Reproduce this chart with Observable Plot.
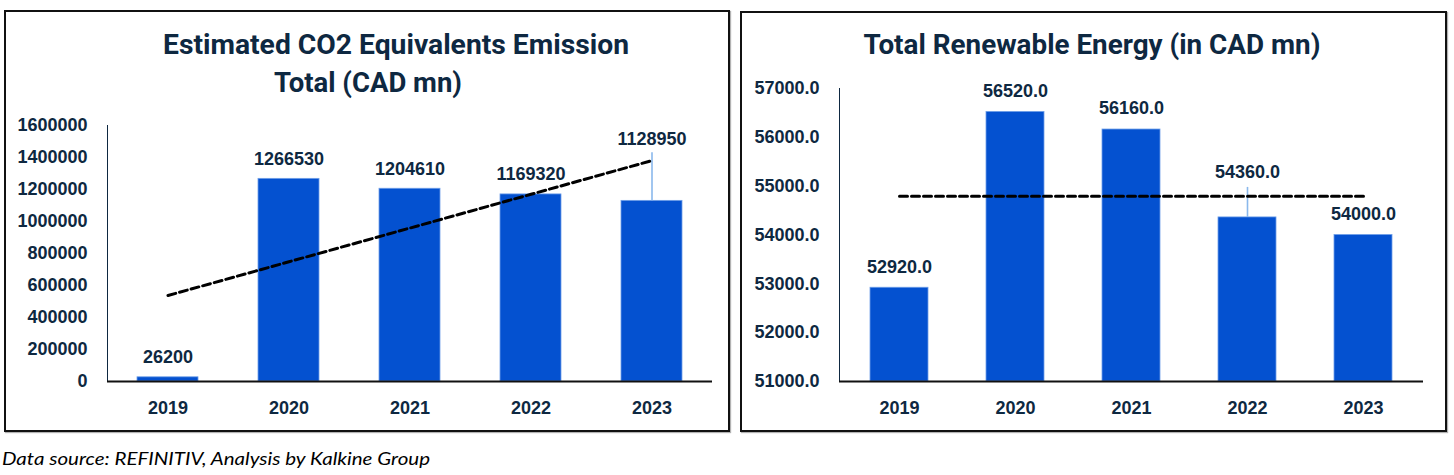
<!DOCTYPE html>
<html><head><meta charset="utf-8">
<script src="https://cdn.jsdelivr.net/npm/d3@7"></script>
<script src="https://cdn.jsdelivr.net/npm/@observablehq/plot@0.6"></script>
<style>
body{margin:0;background:#fff;}
#root{position:relative;width:1454px;height:475px;overflow:hidden;background:#fff;}
.panel{position:absolute;box-sizing:border-box;border:2px solid #111;box-shadow:1px 1px 1px rgba(0,0,0,0.3);}
.panel svg{position:absolute;left:0;top:0;overflow:visible;}
.title{position:absolute;white-space:nowrap;font-family:Roboto,sans-serif;font-weight:700;font-size:27px;color:#0e2841;line-height:1;}
.caption{position:absolute;white-space:nowrap;font-family:Lato,sans-serif;font-style:italic;font-size:18px;color:#000;line-height:1;}
</style></head>
<body>
<div id="root">
  <div class="panel" id="p1" style="left:4px;top:10px;width:726px;height:422px;"></div>
  <div class="panel" id="p2" style="left:740px;top:11px;width:707px;height:421px;"></div>
</div>
<script>
const years = ["2019", "2020", "2021", "2022", "2023"];
const co2Values = [26200, 1266530, 1204610, 1169320, 1128950];
const renewableValues = [52920, 56520, 56160, 54360, 54000];
const co2Ticks = [0, 200000, 400000, 600000, 800000, 1000000, 1200000, 1400000, 1600000];
const renewableTicks = [51000, 52000, 53000, 54000, 55000, 56000, 57000];
const co2Title = ["Estimated CO2 Equivalents Emission", "Total (CAD mn)"];
const renewableTitle = "Total Renewable Energy (in CAD mn)";
const caption = "Data source: REFINITIV, Analysis by Kalkine Group";

const co2 = years.map((year, i) => ({year, value: co2Values[i]}));
const ren = years.map((year, i) => ({year, value: renewableValues[i]}));

function trend(data) {
  const xs = data.map((d, i) => i), ys = data.map(d => d.value);
  const mx = d3.mean(xs), my = d3.mean(ys);
  const slope = d3.sum(xs, (x, i) => (x - mx) * (ys[i] - my)) / d3.sum(xs, x => (x - mx) ** 2);
  return data.map((d, i) => ({year: d.year, value: my + slope * (i - mx)}));
}

const NAVY = "#0e2841", BAR = "#0451d0", EDGE = "#6f9fe8", LEADER = "#8ab8ec";
const axisStyle = {fontFamily: "Liberation Sans, Arial, sans-serif", fontSize: "18px", fontWeight: "bold", color: NAVY, background: "transparent", overflow: "visible"};

function chart({data, ticks, domain, fmt, width, height, margins, special, specialDy, leaderFrac, normalDy}) {
  const base = domain[0];
  const span = domain[1] - domain[0];
  const normal = data.filter(d => d.year !== special);
  const spec = data.filter(d => d.year === special);
  return Plot.plot({
    width, height, ...margins,
    style: axisStyle,
    x: {domain: years, paddingInner: 0.5, paddingOuter: 0.25, tickSize: 0, tickPadding: 20, label: null},
    y: {domain, ticks, tickFormat: fmt, tickSize: 0, tickPadding: 20, label: null, line: true},
    marks: [
      Plot.barY(data, {x: "year", y1: () => base, y2: "value", fill: BAR, stroke: EDGE, strokeWidth: 0.8}),
      Plot.ruleY([base], {stroke: "#111", strokeWidth: 2}),
      Plot.ruleX(spec, {x: "year", y1: "value", y2: d => d.value + leaderFrac * span, stroke: LEADER, strokeWidth: 1.6}),
      Plot.line(trend(data), {x: "year", y: "value", stroke: "#000", strokeWidth: 3, strokeDasharray: "8,4"}),
      Plot.text(normal, {x: "year", y: "value", text: d => d3.format(fmt)(d.value), dy: normalDy, fill: NAVY, fontWeight: "bold", fontSize: 18}),
      Plot.text(spec, {x: "year", y: "value", text: d => d3.format(fmt)(d.value), dy: specialDy, fill: NAVY, fontWeight: "bold", fontSize: 18})
    ]
  });
}

const c1 = chart({data: co2, ticks: co2Ticks, domain: [0, 1600000], fmt: "d", width: 722, height: 418,
  margins: {marginLeft: 101, marginRight: 16, marginTop: 113, marginBottom: 49},
  special: "2023", specialDy: -62, leaderFrac: 0.1875, normalDy: -20});
document.getElementById("p1").appendChild(c1);

const c2 = chart({data: ren, ticks: renewableTicks, domain: [51000, 57000], fmt: ".1f", width: 703, height: 417,
  margins: {marginLeft: 97, marginRight: 22, marginTop: 75, marginBottom: 49},
  special: "2022", specialDy: -45, leaderFrac: 0.1024, normalDy: -21});
document.getElementById("p2").appendChild(c2);

const root = document.getElementById("root");
function place(cls, text, cx, cy, targetW, align) {
  const el = document.createElement("div");
  el.className = cls;
  el.textContent = text;
  root.appendChild(el);
  const w = el.getBoundingClientRect().width;
  const s = targetW / w;
  el.style.top = cy + "px";
  el.style.left = cx + "px";
  if (align === "left") {
    el.style.transformOrigin = "0 50%";
    el.style.transform = `translateY(-50%) scaleX(${s})`;
  } else {
    el.style.transform = `translate(-50%,-50%) scaleX(${s})`;
  }
}
place("title", co2Title[0], 396, 45, 466);
place("title", co2Title[1], 368, 83, 188);
place("title", renewableTitle, 1092, 45, 457);
place("caption", caption, 2, 458, 428, "left");
</script>
</body></html>
